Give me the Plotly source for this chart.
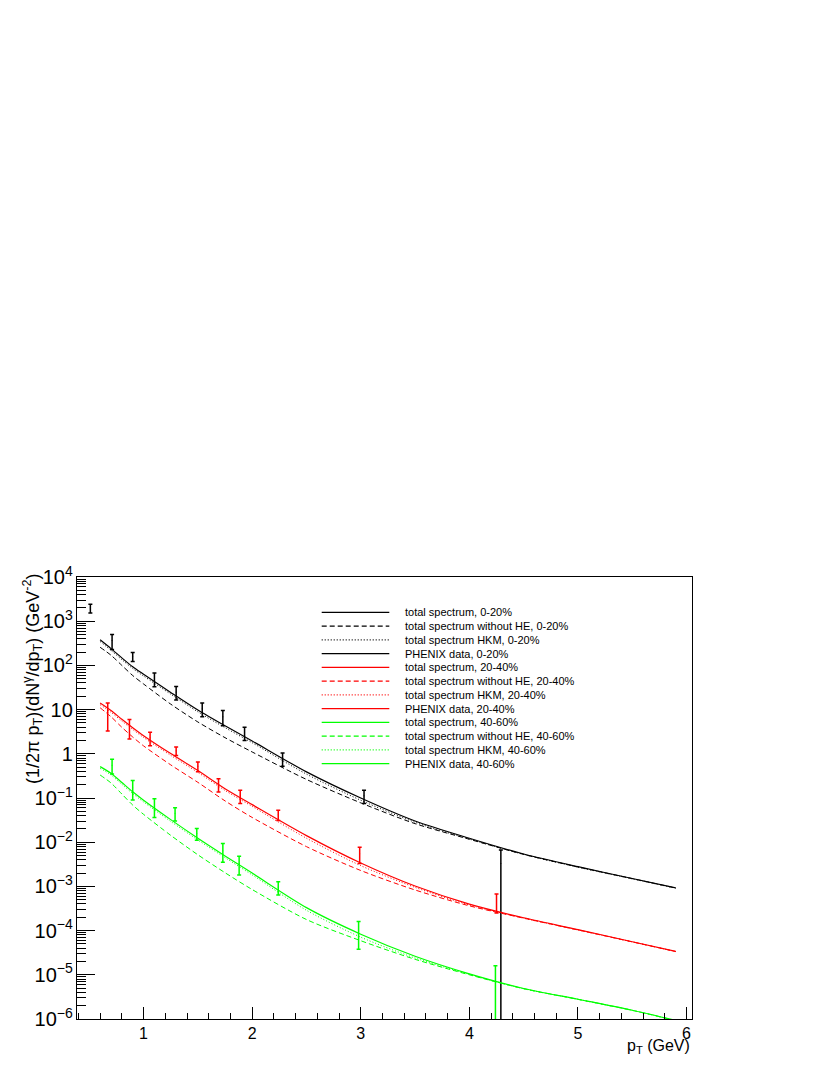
import plotly.graph_objects as go

# transverse momentum grid of the model curves (GeV)
pt = [0.6, 0.7, 0.8, 0.9, 1.0, 1.25, 1.5, 1.75, 2.0, 2.5, 3.0, 3.5, 4.0, 4.5, 5.0, 5.5, 5.9]

# 0-20%
total_0_20 = [380, 240, 148, 93, 63, 24.5, 9.8, 4.3, 1.95, 0.39, 0.100, 0.0302, 0.0123, 0.0054, 0.00279, 0.00151, 0.00093]
noHE_0_20 = [257, 170, 100, 59, 38, 13.3, 5.25, 2.32, 1.10, 0.263, 0.0776, 0.0263, 0.01165, 0.0053, 0.00275, 0.00150, 0.00092]
hkm_0_20 = [347, 219, 135, 85, 57.5, 22.4, 8.9, 3.9, 1.78, 0.347, 0.089, 0.0282, 0.01178, 0.0053, 0.00272, 0.00148, 0.00091]

# 20-40%
total_20_40 = [14.1, 9.55, 6.03, 3.89, 2.57, 1.01, 0.417, 0.162, 0.0708, 0.0141, 0.00339, 0.00102, 3.98e-4, 1.95e-4, 1.05e-4, 5.6e-5, 3.39e-5]
noHE_20_40 = [11.0, 6.9, 3.98, 2.40, 1.51, 0.562, 0.226, 0.0861, 0.0363, 0.00794, 0.00229, 8.3e-4, 3.63e-4, 1.91e-4, 1.035e-4, 5.56e-5, 3.35e-5]
hkm_20_40 = [12.9, 8.7, 5.5, 3.55, 2.34, 0.923, 0.380, 0.148, 0.0646, 0.0123, 0.00295, 9.5e-4, 3.8e-4, 1.91e-4, 1.035e-4, 5.56e-5, 3.35e-5]

# 40-60%
total_40_60 = [0.513, 0.363, 0.224, 0.138, 0.0891, 0.0324, 0.0123, 0.0049, 0.0020, 3.31e-4, 8.3e-5, 2.63e-5, 1.05e-5, 4.9e-6, 2.8e-6, 1.58e-6, 9.3e-7]
noHE_40_60 = [0.331, 0.219, 0.123, 0.0692, 0.0427, 0.0143, 0.00519, 0.00204, 8.5e-4, 1.78e-4, 5.9e-5, 2.24e-5, 1.0e-5, 4.84e-6, 2.79e-6, 1.57e-6, 9.2e-7]
hkm_40_60 = [0.468, 0.331, 0.204, 0.126, 0.0813, 0.0295, 0.0112, 0.00447, 0.00182, 2.88e-4, 7.1e-5, 2.4e-5, 1.02e-5, 4.84e-6, 2.79e-6, 1.57e-6, 9.2e-7]

# PHENIX data points
phenix_pt_0_20 = [0.51, 0.71, 0.90, 1.10, 1.30, 1.54, 1.73, 1.93, 2.28, 3.03, 4.29]
phenix_y_0_20 = [1980, 365, 160, 50, 25, 10.5, 6.9, 3.0, 0.78, 0.112, 0.0033]
phenix_err_0_20 = [450, 135, 37, 17, 8.5, 3.6, 2.6, 1.0, 0.26, 0.037, 0.0034]

phenix_pt_20_40 = [0.67, 0.87, 1.06, 1.30, 1.50, 1.69, 1.89, 2.24, 2.99, 4.25]
phenix_y_20_40 = [8.7, 4.05, 2.3, 1.17, 0.52, 0.205, 0.112, 0.042, 0.0055, 4.6e-4]
phenix_err_20_40 = [5.4, 1.9, 0.77, 0.25, 0.13, 0.068, 0.037, 0.011, 0.0022, 2.1e-4]

phenix_pt_40_60 = [0.71, 0.90, 1.10, 1.29, 1.49, 1.73, 1.88, 2.24, 2.98, 4.24]
phenix_y_40_60 = [0.55, 0.17, 0.066, 0.045, 0.0157, 0.0064, 0.0033, 9.6e-4, 9.9e-5, 7e-6]
phenix_err_40_60 = [0.2, 0.08, 0.03, 0.015, 0.0047, 0.0029, 0.0015, 3.2e-4, 6.1e-5, 9e-6]

legend_labels = [
    "total spectrum, 0-20%", "total spectrum without HE, 0-20%",
    "total spectrum HKM, 0-20%", "PHENIX data, 0-20%",
    "total spectrum, 20-40%", "total spectrum without HE, 20-40%",
    "total spectrum HKM, 20-40%", "PHENIX data, 20-40%",
    "total spectrum, 40-60%", "total spectrum without HE, 40-60%",
    "total spectrum HKM, 40-60%", "PHENIX data, 40-60%",
]

BLACK, RED, GREEN = "#000000", "#ff0000", "#00ff00"
DASH = "5px,3px"
DOT = "1px,2px"
FONT = "Liberation Sans, Arial, Helvetica, sans-serif"

fig = go.Figure()

groups = [
    (BLACK, total_0_20, noHE_0_20, hkm_0_20, phenix_pt_0_20, phenix_y_0_20, phenix_err_0_20),
    (RED, total_20_40, noHE_20_40, hkm_20_40, phenix_pt_20_40, phenix_y_20_40, phenix_err_20_40),
    (GREEN, total_40_60, noHE_40_60, hkm_40_60, phenix_pt_40_60, phenix_y_40_60, phenix_err_40_60),
]

for color, tot, nohe, hkm, dx, dy, de in groups:
    fig.add_trace(go.Scatter(x=pt, y=nohe, mode="lines", showlegend=False,
                             line=dict(color=color, width=1, dash=DASH, shape="spline", smoothing=0.8)))
    fig.add_trace(go.Scatter(x=pt, y=hkm, mode="lines", showlegend=False,
                             line=dict(color=color, width=1, dash=DOT, shape="spline", smoothing=0.8)))
    fig.add_trace(go.Scatter(x=pt, y=tot, mode="lines", showlegend=False,
                             line=dict(color=color, width=1.2, shape="spline", smoothing=0.8)))
    fig.add_trace(go.Scatter(x=dx, y=dy, mode="markers", showlegend=False,
                             marker=dict(color=color, size=1),
                             error_y=dict(type="data", array=de, color=color,
                                          thickness=1.5, width=2)))

# hand-made legend (ROOT style, tight rows); positions in page pixels
styles = ["solid", DASH, DOT, "solid"]
colors = [BLACK] * 4 + [RED] * 4 + [GREEN] * 4
x0, x1 = 77, 692
ytop, ybot = 577, 1019


def px_x(p):
    return (p - x0) / (x1 - x0)


def px_y(p):
    return (ybot - p) / (ybot - ytop)


for i, label in enumerate(legend_labels):
    yy = px_y(612.3 + i * 13.76)
    fig.add_shape(type="line", xref="paper", yref="paper",
                  x0=px_x(321.7), x1=px_x(389.3), y0=yy, y1=yy,
                  line=dict(color=colors[i], width=1.2, dash=styles[i % 4]))
    fig.add_annotation(x=px_x(403.3), y=yy, xref="paper", yref="paper",
                       text=label, showarrow=False, xanchor="left", yanchor="middle",
                       font=dict(size=11, color="black", family=FONT))

fig.add_annotation(
    text="(1/2\u03c0 p<sub>T</sub>)(dN<sup>\u03b3</sup>/dp<sub>T</sub>) (GeV<sup>-2</sup>)",
    textangle=-90, xref="paper", yref="paper", x=px_x(32), y=px_y(572),
    xanchor="center", yanchor="top", showarrow=False,
    font=dict(size=18, color="black", family=FONT))

fig.add_annotation(
    text="p<sub>T</sub> (GeV)", xref="paper", yref="paper", x=1.0, y=px_y(1035),
    xanchor="right", yanchor="top", showarrow=False,
    font=dict(size=16, color="black", family=FONT))

# the html body adds an 8px margin, so the figure is 8px smaller and shifted
fig.update_layout(
    width=822, height=1067,
    margin=dict(l=69, r=138, t=569, b=56),
    paper_bgcolor="white", plot_bgcolor="white",
    font=dict(family=FONT, size=16, color="black"),
    showlegend=False,
)
fig.update_xaxes(
    range=[0.387, 6.05], showgrid=False, zeroline=False,
    showline=True, linecolor="black", linewidth=1, mirror=True,
    ticks="inside", ticklen=12, tickcolor="black", dtick=1, tick0=0,
    minor=dict(ticks="inside", ticklen=6, dtick=0.2, tickcolor="black", showgrid=False),
    tickfont=dict(size=16),
)
fig.update_yaxes(
    type="log", range=[-6, 4], showgrid=False, zeroline=False,
    showline=True, linecolor="black", linewidth=1, mirror=True,
    ticks="inside", ticklen=18, tickcolor="black", dtick=1,
    exponentformat="power",
    minor=dict(ticks="inside", ticklen=9, dtick="D1", tickcolor="black", showgrid=False),
    tickfont=dict(size=16),
)

fig.write_html("out.html")
